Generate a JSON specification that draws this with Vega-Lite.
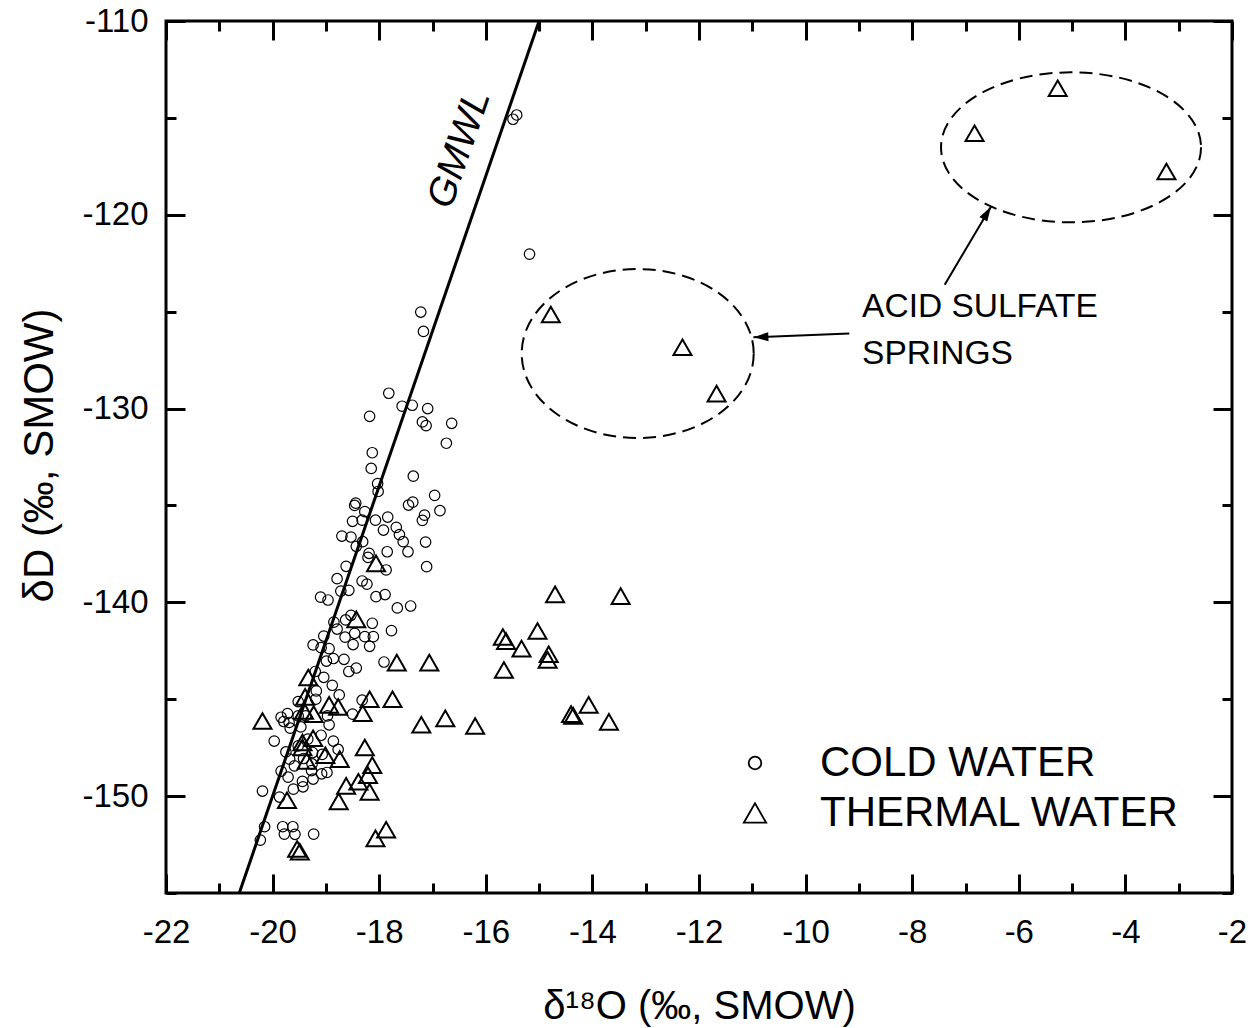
{
  "$schema": "https://vega.github.io/schema/vega-lite/v6.json",
  "width": 1066,
  "height": 872,
  "autosize": {"type": "none"},
  "padding": {"left": 166, "top": 21, "right": 25, "bottom": 135},
  "config": {
    "font": "Liberation Sans",
    "view": {"stroke": "black", "strokeWidth": 3},
    "axis": {
      "domain": false, "grid": false,
      "tickColor": "black", "tickWidth": 3,
      "labelFont": "Liberation Sans", "labelFontSize": 33, "labelColor": "black",
      "labelFlush": false, "labelOverlap": false,
      "titleFont": "Liberation Sans", "titleFontSize": 40, "titleFontWeight": "normal", "titleColor": "black"
    },
    "legend": {
      "orient": "none", "legendX": 568, "legendY": 721, "padding": 0,
      "labelFont": "Liberation Sans", "labelFontSize": 42, "labelColor": "black", "labelLimit": 0, "labelOffset": 44,
      "symbolSize": 500, "symbolStrokeColor": "black", "symbolStrokeWidth": 1.8, "rowPadding": 8
    }
  },
  "datasets": {
    "samples": [
      {"d18O": -15.42, "dD": -114.85, "type": "COLD WATER"},
      {"d18O": -15.49, "dD": -115.07, "type": "COLD WATER"},
      {"d18O": -15.18, "dD": -122.03, "type": "COLD WATER"},
      {"d18O": -17.22, "dD": -125.02, "type": "COLD WATER"},
      {"d18O": -17.17, "dD": -126.02, "type": "COLD WATER"},
      {"d18O": -17.82, "dD": -129.21, "type": "COLD WATER"},
      {"d18O": -17.57, "dD": -129.88, "type": "COLD WATER"},
      {"d18O": -17.38, "dD": -129.83, "type": "COLD WATER"},
      {"d18O": -17.09, "dD": -130.0, "type": "COLD WATER"},
      {"d18O": -18.18, "dD": -130.4, "type": "COLD WATER"},
      {"d18O": -17.19, "dD": -130.69, "type": "COLD WATER"},
      {"d18O": -17.12, "dD": -130.88, "type": "COLD WATER"},
      {"d18O": -16.64, "dD": -130.76, "type": "COLD WATER"},
      {"d18O": -16.74, "dD": -131.79, "type": "COLD WATER"},
      {"d18O": -18.13, "dD": -132.28, "type": "COLD WATER"},
      {"d18O": -18.15, "dD": -133.09, "type": "COLD WATER"},
      {"d18O": -18.03, "dD": -133.87, "type": "COLD WATER"},
      {"d18O": -18.02, "dD": -134.28, "type": "COLD WATER"},
      {"d18O": -17.36, "dD": -133.49, "type": "COLD WATER"},
      {"d18O": -18.44, "dD": -134.88, "type": "COLD WATER"},
      {"d18O": -18.46, "dD": -135.0, "type": "COLD WATER"},
      {"d18O": -17.37, "dD": -134.83, "type": "COLD WATER"},
      {"d18O": -17.45, "dD": -134.98, "type": "COLD WATER"},
      {"d18O": -16.96, "dD": -134.48, "type": "COLD WATER"},
      {"d18O": -16.86, "dD": -135.27, "type": "COLD WATER"},
      {"d18O": -18.27, "dD": -135.32, "type": "COLD WATER"},
      {"d18O": -17.15, "dD": -135.5, "type": "COLD WATER"},
      {"d18O": -17.19, "dD": -135.77, "type": "COLD WATER"},
      {"d18O": -17.84, "dD": -135.6, "type": "COLD WATER"},
      {"d18O": -18.07, "dD": -135.76, "type": "COLD WATER"},
      {"d18O": -18.5, "dD": -135.82, "type": "COLD WATER"},
      {"d18O": -18.32, "dD": -135.76, "type": "COLD WATER"},
      {"d18O": -17.92, "dD": -136.27, "type": "COLD WATER"},
      {"d18O": -17.68, "dD": -136.13, "type": "COLD WATER"},
      {"d18O": -17.62, "dD": -136.51, "type": "COLD WATER"},
      {"d18O": -17.55, "dD": -136.87, "type": "COLD WATER"},
      {"d18O": -17.46, "dD": -137.39, "type": "COLD WATER"},
      {"d18O": -17.13, "dD": -136.89, "type": "COLD WATER"},
      {"d18O": -18.7, "dD": -136.58, "type": "COLD WATER"},
      {"d18O": -18.53, "dD": -136.63, "type": "COLD WATER"},
      {"d18O": -18.31, "dD": -136.87, "type": "COLD WATER"},
      {"d18O": -18.43, "dD": -137.11, "type": "COLD WATER"},
      {"d18O": -17.85, "dD": -137.39, "type": "COLD WATER"},
      {"d18O": -18.19, "dD": -137.47, "type": "COLD WATER"},
      {"d18O": -18.21, "dD": -137.68, "type": "COLD WATER"},
      {"d18O": -17.87, "dD": -138.33, "type": "COLD WATER"},
      {"d18O": -17.11, "dD": -138.16, "type": "COLD WATER"},
      {"d18O": -18.62, "dD": -138.14, "type": "COLD WATER"},
      {"d18O": -18.79, "dD": -138.78, "type": "COLD WATER"},
      {"d18O": -18.32, "dD": -138.9, "type": "COLD WATER"},
      {"d18O": -18.23, "dD": -139.06, "type": "COLD WATER"},
      {"d18O": -18.57, "dD": -139.38, "type": "COLD WATER"},
      {"d18O": -18.72, "dD": -139.42, "type": "COLD WATER"},
      {"d18O": -19.1, "dD": -139.73, "type": "COLD WATER"},
      {"d18O": -18.96, "dD": -139.88, "type": "COLD WATER"},
      {"d18O": -18.06, "dD": -139.71, "type": "COLD WATER"},
      {"d18O": -17.89, "dD": -139.6, "type": "COLD WATER"},
      {"d18O": -17.66, "dD": -140.29, "type": "COLD WATER"},
      {"d18O": -17.41, "dD": -140.19, "type": "COLD WATER"},
      {"d18O": -18.53, "dD": -140.67, "type": "COLD WATER"},
      {"d18O": -18.63, "dD": -140.91, "type": "COLD WATER"},
      {"d18O": -18.85, "dD": -141.02, "type": "COLD WATER"},
      {"d18O": -18.13, "dD": -141.08, "type": "COLD WATER"},
      {"d18O": -18.79, "dD": -141.38, "type": "COLD WATER"},
      {"d18O": -18.46, "dD": -141.6, "type": "COLD WATER"},
      {"d18O": -18.64, "dD": -141.8, "type": "COLD WATER"},
      {"d18O": -18.27, "dD": -141.77, "type": "COLD WATER"},
      {"d18O": -18.11, "dD": -141.77, "type": "COLD WATER"},
      {"d18O": -17.77, "dD": -141.46, "type": "COLD WATER"},
      {"d18O": -19.04, "dD": -141.74, "type": "COLD WATER"},
      {"d18O": -19.24, "dD": -142.2, "type": "COLD WATER"},
      {"d18O": -18.49, "dD": -142.18, "type": "COLD WATER"},
      {"d18O": -18.18, "dD": -142.27, "type": "COLD WATER"},
      {"d18O": -18.94, "dD": -142.39, "type": "COLD WATER"},
      {"d18O": -19.09, "dD": -142.34, "type": "COLD WATER"},
      {"d18O": -18.86, "dD": -142.9, "type": "COLD WATER"},
      {"d18O": -18.99, "dD": -143.03, "type": "COLD WATER"},
      {"d18O": -18.66, "dD": -142.94, "type": "COLD WATER"},
      {"d18O": -18.43, "dD": -143.39, "type": "COLD WATER"},
      {"d18O": -18.57, "dD": -143.57, "type": "COLD WATER"},
      {"d18O": -17.91, "dD": -143.08, "type": "COLD WATER"},
      {"d18O": -19.04, "dD": -143.87, "type": "COLD WATER"},
      {"d18O": -18.88, "dD": -144.28, "type": "COLD WATER"},
      {"d18O": -19.18, "dD": -144.57, "type": "COLD WATER"},
      {"d18O": -18.75, "dD": -144.78, "type": "COLD WATER"},
      {"d18O": -19.52, "dD": -145.12, "type": "COLD WATER"},
      {"d18O": -19.19, "dD": -145.0, "type": "COLD WATER"},
      {"d18O": -18.32, "dD": -145.05, "type": "COLD WATER"},
      {"d18O": -19.72, "dD": -145.74, "type": "COLD WATER"},
      {"d18O": -19.69, "dD": -146.2, "type": "COLD WATER"},
      {"d18O": -18.97, "dD": -145.86, "type": "COLD WATER"},
      {"d18O": -18.5, "dD": -145.77, "type": "COLD WATER"},
      {"d18O": -19.67, "dD": -146.49, "type": "COLD WATER"},
      {"d18O": -18.94, "dD": -146.32, "type": "COLD WATER"},
      {"d18O": -19.97, "dD": -147.16, "type": "COLD WATER"},
      {"d18O": -19.75, "dD": -147.72, "type": "COLD WATER"},
      {"d18O": -19.09, "dD": -146.86, "type": "COLD WATER"},
      {"d18O": -18.86, "dD": -147.16, "type": "COLD WATER"},
      {"d18O": -18.77, "dD": -147.59, "type": "COLD WATER"},
      {"d18O": -19.68, "dD": -148.09, "type": "COLD WATER"},
      {"d18O": -19.59, "dD": -148.44, "type": "COLD WATER"},
      {"d18O": -19.84, "dD": -148.71, "type": "COLD WATER"},
      {"d18O": -19.71, "dD": -149.02, "type": "COLD WATER"},
      {"d18O": -19.27, "dD": -148.68, "type": "COLD WATER"},
      {"d18O": -19.08, "dD": -148.85, "type": "COLD WATER"},
      {"d18O": -18.98, "dD": -148.78, "type": "COLD WATER"},
      {"d18O": -19.44, "dD": -149.24, "type": "COLD WATER"},
      {"d18O": -19.43, "dD": -149.52, "type": "COLD WATER"},
      {"d18O": -19.61, "dD": -149.64, "type": "COLD WATER"},
      {"d18O": -19.24, "dD": -149.12, "type": "COLD WATER"},
      {"d18O": -20.19, "dD": -149.74, "type": "COLD WATER"},
      {"d18O": -19.87, "dD": -150.05, "type": "COLD WATER"},
      {"d18O": -20.15, "dD": -151.58, "type": "COLD WATER"},
      {"d18O": -20.23, "dD": -152.27, "type": "COLD WATER"},
      {"d18O": -19.81, "dD": -151.58, "type": "COLD WATER"},
      {"d18O": -19.62, "dD": -151.58, "type": "COLD WATER"},
      {"d18O": -19.78, "dD": -151.96, "type": "COLD WATER"},
      {"d18O": -19.58, "dD": -151.97, "type": "COLD WATER"},
      {"d18O": -19.23, "dD": -151.96, "type": "COLD WATER"},
      {"d18O": -19.38, "dD": -145.86, "type": "COLD WATER"},
      {"d18O": -19.34, "dD": -147.06, "type": "COLD WATER"},
      {"d18O": -19.25, "dD": -147.75, "type": "COLD WATER"},
      {"d18O": -19.52, "dD": -147.41, "type": "COLD WATER"},
      {"d18O": -19.42, "dD": -148.06, "type": "COLD WATER"},
      {"d18O": -19.26, "dD": -148.34, "type": "COLD WATER"},
      {"d18O": -19.07, "dD": -147.85, "type": "COLD WATER"},
      {"d18O": -19.84, "dD": -145.93, "type": "COLD WATER"},
      {"d18O": -19.79, "dD": -146.15, "type": "COLD WATER"},
      {"d18O": -19.2, "dD": -143.57, "type": "COLD WATER"},
      {"d18O": -19.47, "dD": -146.43, "type": "COLD WATER"},
      {"d18O": -19.52, "dD": -145.86, "type": "COLD WATER"},
      {"d18O": -18.06, "dD": -137.99, "type": "THERMAL WATER"},
      {"d18O": -18.43, "dD": -140.88, "type": "THERMAL WATER"},
      {"d18O": -17.67, "dD": -143.11, "type": "THERMAL WATER"},
      {"d18O": -17.06, "dD": -143.11, "type": "THERMAL WATER"},
      {"d18O": -19.33, "dD": -143.88, "type": "THERMAL WATER"},
      {"d18O": -19.39, "dD": -144.88, "type": "THERMAL WATER"},
      {"d18O": -18.18, "dD": -145.0, "type": "THERMAL WATER"},
      {"d18O": -17.75, "dD": -145.0, "type": "THERMAL WATER"},
      {"d18O": -18.94, "dD": -145.29, "type": "THERMAL WATER"},
      {"d18O": -18.77, "dD": -145.4, "type": "THERMAL WATER"},
      {"d18O": -19.41, "dD": -145.6, "type": "THERMAL WATER"},
      {"d18O": -19.23, "dD": -145.77, "type": "THERMAL WATER"},
      {"d18O": -18.31, "dD": -145.72, "type": "THERMAL WATER"},
      {"d18O": -20.19, "dD": -146.12, "type": "THERMAL WATER"},
      {"d18O": -17.21, "dD": -146.32, "type": "THERMAL WATER"},
      {"d18O": -16.76, "dD": -145.99, "type": "THERMAL WATER"},
      {"d18O": -16.2, "dD": -146.38, "type": "THERMAL WATER"},
      {"d18O": -19.24, "dD": -147.01, "type": "THERMAL WATER"},
      {"d18O": -19.44, "dD": -147.23, "type": "THERMAL WATER"},
      {"d18O": -19.44, "dD": -147.49, "type": "THERMAL WATER"},
      {"d18O": -18.27, "dD": -147.49, "type": "THERMAL WATER"},
      {"d18O": -19.01, "dD": -147.89, "type": "THERMAL WATER"},
      {"d18O": -18.74, "dD": -148.09, "type": "THERMAL WATER"},
      {"d18O": -19.36, "dD": -148.18, "type": "THERMAL WATER"},
      {"d18O": -18.13, "dD": -148.4, "type": "THERMAL WATER"},
      {"d18O": -18.21, "dD": -148.92, "type": "THERMAL WATER"},
      {"d18O": -18.39, "dD": -149.26, "type": "THERMAL WATER"},
      {"d18O": -18.62, "dD": -149.47, "type": "THERMAL WATER"},
      {"d18O": -18.18, "dD": -149.78, "type": "THERMAL WATER"},
      {"d18O": -19.73, "dD": -150.21, "type": "THERMAL WATER"},
      {"d18O": -18.76, "dD": -150.27, "type": "THERMAL WATER"},
      {"d18O": -17.87, "dD": -151.74, "type": "THERMAL WATER"},
      {"d18O": -18.07, "dD": -152.18, "type": "THERMAL WATER"},
      {"d18O": -19.54, "dD": -152.73, "type": "THERMAL WATER"},
      {"d18O": -19.49, "dD": -152.87, "type": "THERMAL WATER"},
      {"d18O": -14.7, "dD": -139.59, "type": "THERMAL WATER"},
      {"d18O": -13.47, "dD": -139.68, "type": "THERMAL WATER"},
      {"d18O": -15.03, "dD": -141.48, "type": "THERMAL WATER"},
      {"d18O": -15.68, "dD": -141.79, "type": "THERMAL WATER"},
      {"d18O": -15.62, "dD": -142.0, "type": "THERMAL WATER"},
      {"d18O": -15.33, "dD": -142.39, "type": "THERMAL WATER"},
      {"d18O": -14.82, "dD": -142.68, "type": "THERMAL WATER"},
      {"d18O": -14.84, "dD": -142.97, "type": "THERMAL WATER"},
      {"d18O": -15.66, "dD": -143.49, "type": "THERMAL WATER"},
      {"d18O": -14.4, "dD": -145.77, "type": "THERMAL WATER"},
      {"d18O": -14.36, "dD": -145.86, "type": "THERMAL WATER"},
      {"d18O": -14.07, "dD": -145.29, "type": "THERMAL WATER"},
      {"d18O": -13.69, "dD": -146.17, "type": "THERMAL WATER"},
      {"d18O": -14.78, "dD": -125.15, "type": "THERMAL WATER"},
      {"d18O": -12.31, "dD": -126.84, "type": "THERMAL WATER"},
      {"d18O": -11.67, "dD": -129.23, "type": "THERMAL WATER"},
      {"d18O": -6.83, "dD": -115.79, "type": "THERMAL WATER"},
      {"d18O": -5.27, "dD": -113.47, "type": "THERMAL WATER"},
      {"d18O": -3.23, "dD": -117.77, "type": "THERMAL WATER"}
    ],
    "gmwl": [
      {"d18O": -20.625, "dD": -155},
      {"d18O": -15, "dD": -110}
    ],
    "group1": [{"d18O": -13.15, "dD": -127.16}],
    "group2": [{"d18O": -5.02, "dD": -116.52}],
    "lineLabel": [{"d18O": -16.5, "dD": -116.6, "label": "GMWL"}],
    "note": [
      {"d18O": -8.94, "dD": -125.26, "label": "ACID SULFATE"},
      {"d18O": -8.94, "dD": -127.68, "label": "SPRINGS"}
    ],
    "arrows": [
      {"d18O": -9.18, "dD": -126.13, "d18O2": -10.98, "dD2": -126.32},
      {"d18O": -7.39, "dD": -123.61, "d18O2": -6.52, "dD2": -119.57}
    ],
    "tipLeft": [{"d18O": -10.98, "dD": -126.32}],
    "tipUp": [{"d18O": -6.52, "dD": -119.57}]
  },
  "layer": [
    {
      "data": {"name": "samples"},
      "transform": [{"filter": "datum.type === 'COLD WATER'"}],
      "mark": {"type": "point", "filled": false, "size": 110, "strokeWidth": 1.2, "color": "black", "opacity": 1},
      "encoding": {
        "x": {"field": "d18O", "type": "quantitative",
          "scale": {"domain": [-22, -2], "nice": false, "zero": false},
          "axis": {"orient": "bottom", "values": [-22, -20, -18, -16, -14, -12, -10, -8, -6, -4, -2], "ticks": false, "labelPadding": 23,
            "labelExpr": "datum.value + ''",
            "title": "δ¹⁸O (‰, SMOW)", "titleBaseline": "alphabetic", "titleY": 125, "titleX": 533, "titleAlign": "center"}},
        "y": {"field": "dD", "type": "quantitative",
          "scale": {"domain": [-155, -110], "nice": false, "zero": false},
          "axis": {"orient": "left", "values": [-150, -140, -130, -120, -110], "ticks": false, "labelPadding": 18,
            "labelExpr": "datum.value + ''",
            "title": "δD (‰, SMOW)", "titleFontSize": 42, "titleBaseline": "alphabetic", "titleX": -114, "titleY": 434, "titleAlign": "center", "titleAngle": -90}},
        "shape": {"field": "type", "type": "nominal",
          "scale": {"domain": ["COLD WATER", "THERMAL WATER"], "range": ["circle", "triangle-up"]},
          "legend": {"title": null}}
      }
    },
    {
      "data": {"name": "samples"},
      "transform": [{"filter": "datum.type === 'THERMAL WATER'"}],
      "mark": {"type": "point", "filled": false, "size": 324, "strokeWidth": 2, "color": "black", "opacity": 1},
      "encoding": {
        "x": {"field": "d18O", "type": "quantitative",
          "scale": {"domain": [-22, -2], "nice": false, "zero": false},
          "axis": {"orient": "bottom", "values": [-22, -20, -18, -16, -14, -12, -10, -8, -6, -4, -2], "labels": false, "tickSize": -19, "title": null}},
        "y": {"field": "dD", "type": "quantitative",
          "scale": {"domain": [-155, -110], "nice": false, "zero": false},
          "axis": {"orient": "left", "values": [-150, -140, -130, -120, -110], "labels": false, "tickSize": -19, "title": null}},
        "shape": {"field": "type", "type": "nominal",
          "scale": {"domain": ["COLD WATER", "THERMAL WATER"], "range": ["circle", "triangle-up"]},
          "legend": {"title": null}}
      }
    },
    {
      "data": {"name": "samples"},
      "transform": [{"filter": "false"}],
      "mark": {"type": "point", "filled": false, "strokeWidth": 1.8, "color": "black", "opacity": 1},
      "encoding": {
        "shape": {"field": "type", "type": "nominal",
          "scale": {"domain": ["COLD WATER", "THERMAL WATER"], "range": ["circle", "triangle-up"]},
          "legend": {"title": null}},
        "size": {"field": "type", "type": "nominal",
          "scale": {"domain": ["COLD WATER", "THERMAL WATER"], "range": [160, 500], "padding": 0},
          "legend": {"title": null}}
      }
    },
    {
      "data": {"name": "gmwl"},
      "mark": {"type": "line", "color": "black", "strokeWidth": 3},
      "encoding": {
        "x": {"field": "d18O", "type": "quantitative",
          "scale": {"domain": [-22, -2], "nice": false, "zero": false},
          "axis": {"orient": "bottom", "values": [-21, -19, -17, -15, -13, -11, -9, -7, -5, -3], "labels": false, "tickSize": -10, "title": null}},
        "y": {"field": "dD", "type": "quantitative",
          "scale": {"domain": [-155, -110], "nice": false, "zero": false},
          "axis": {"orient": "left", "values": [-155, -145, -135, -125, -115], "labels": false, "tickSize": -10, "title": null}}
      }
    },
    {
      "data": {"name": "group1"},
      "mark": {"type": "point", "shape": "M1,0 C1,0.4023 0.5523,0.728 0,0.728 C-0.5523,0.728 -1,0.4023 -1,0 C-1,-0.4023 -0.5523,-0.728 0,-0.728 C0.5523,-0.728 1,-0.4023 1,0 Z",
        "size": 53824, "filled": false, "strokeWidth": 2, "strokeDash": [13, 7], "color": "black", "opacity": 1},
      "encoding": {
        "x": {"field": "d18O", "type": "quantitative",
          "scale": {"domain": [-22, -2], "nice": false, "zero": false},
          "axis": {"orient": "top", "values": [-22, -20, -18, -16, -14, -12, -10, -8, -6, -4, -2], "labels": false, "tickSize": -19, "title": null}},
        "y": {"field": "dD", "type": "quantitative",
          "scale": {"domain": [-155, -110], "nice": false, "zero": false},
          "axis": {"orient": "right", "values": [-150, -140, -130, -120, -110], "labels": false, "tickSize": -19, "title": null}}
      }
    },
    {
      "data": {"name": "group2"},
      "mark": {"type": "point", "shape": "M1,0 C1,0.3187 0.5523,0.577 0,0.577 C-0.5523,0.577 -1,0.3187 -1,0 C-1,-0.3187 -0.5523,-0.577 0,-0.577 C0.5523,-0.577 1,-0.3187 1,0 Z",
        "size": 67600, "filled": false, "strokeWidth": 2, "strokeDash": [13, 7], "color": "black", "opacity": 1},
      "encoding": {
        "x": {"field": "d18O", "type": "quantitative",
          "scale": {"domain": [-22, -2], "nice": false, "zero": false},
          "axis": {"orient": "top", "values": [-21, -19, -17, -15, -13, -11, -9, -7, -5, -3], "labels": false, "tickSize": -10, "title": null}},
        "y": {"field": "dD", "type": "quantitative",
          "scale": {"domain": [-155, -110], "nice": false, "zero": false},
          "axis": {"orient": "right", "values": [-155, -145, -135, -125, -115], "labels": false, "tickSize": -10, "title": null}}
      }
    },
    {
      "data": {"name": "lineLabel"},
      "mark": {"type": "text", "angle": -71, "fontSize": 39, "fontStyle": "italic", "font": "Liberation Sans", "align": "center", "baseline": "middle", "color": "black"},
      "encoding": {
        "x": {"field": "d18O", "type": "quantitative", "scale": {"domain": [-22, -2], "nice": false, "zero": false}, "axis": null},
        "y": {"field": "dD", "type": "quantitative", "scale": {"domain": [-155, -110], "nice": false, "zero": false}, "axis": null},
        "text": {"field": "label"}
      }
    },
    {
      "data": {"name": "note"},
      "mark": {"type": "text", "fontSize": 33.5, "font": "Liberation Sans", "align": "left", "baseline": "alphabetic", "color": "black"},
      "encoding": {
        "x": {"field": "d18O", "type": "quantitative", "scale": {"domain": [-22, -2], "nice": false, "zero": false}, "axis": null},
        "y": {"field": "dD", "type": "quantitative", "scale": {"domain": [-155, -110], "nice": false, "zero": false}, "axis": null},
        "text": {"field": "label"}
      }
    },
    {
      "data": {"name": "arrows"},
      "mark": {"type": "rule", "color": "black", "strokeWidth": 2},
      "encoding": {
        "x": {"field": "d18O", "type": "quantitative", "scale": {"domain": [-22, -2], "nice": false, "zero": false}, "axis": null},
        "y": {"field": "dD", "type": "quantitative", "scale": {"domain": [-155, -110], "nice": false, "zero": false}, "axis": null},
        "x2": {"field": "d18O2"},
        "y2": {"field": "dD2"}
      }
    },
    {
      "data": {"name": "tipLeft"},
      "mark": {"type": "point", "shape": "M0,0 L-0.45,1.5 L0.45,1.5 Z", "size": 400, "angle": 268, "filled": true, "color": "black", "opacity": 1},
      "encoding": {
        "x": {"field": "d18O", "type": "quantitative", "scale": {"domain": [-22, -2], "nice": false, "zero": false}, "axis": null},
        "y": {"field": "dD", "type": "quantitative", "scale": {"domain": [-155, -110], "nice": false, "zero": false}, "axis": null}
      }
    },
    {
      "data": {"name": "tipUp"},
      "mark": {"type": "point", "shape": "M0,0 L-0.45,1.5 L0.45,1.5 Z", "size": 400, "angle": 31, "filled": true, "color": "black", "opacity": 1},
      "encoding": {
        "x": {"field": "d18O", "type": "quantitative", "scale": {"domain": [-22, -2], "nice": false, "zero": false}, "axis": null},
        "y": {"field": "dD", "type": "quantitative", "scale": {"domain": [-155, -110], "nice": false, "zero": false}, "axis": null}
      }
    }
  ],
  "resolve": {"axis": {"x": "independent", "y": "independent"}}
}
